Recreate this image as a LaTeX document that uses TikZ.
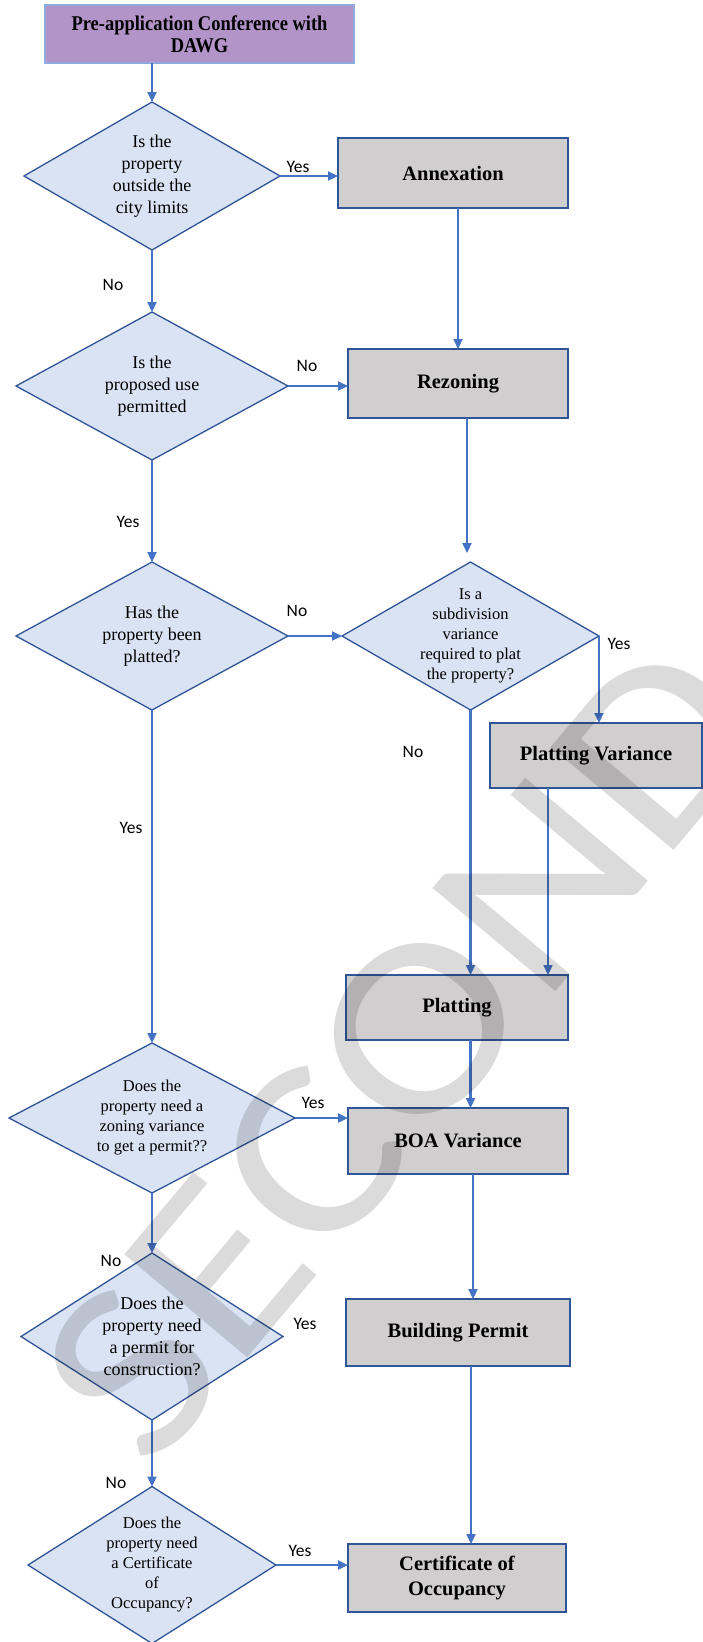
\documentclass[tikz,border=0pt]{standalone}
\usepackage{fontspec}
\setmainfont{Liberation Serif}
\newfontfamily\answerfont{Carlito}
\newfontfamily\stampfont{Carlito}
\newfontfamily\headfont{Liberation Serif}[FakeStretch=0.88]
\usetikzlibrary{arrows.meta,shapes.geometric,calc}

\definecolor{headfill}{RGB}{179,148,200}
\definecolor{headedge}{RGB}{143,170,220}
\definecolor{qfill}{RGB}{218,227,243}
\definecolor{qedge}{RGB}{47,85,151}
\definecolor{stepfill}{RGB}{208,206,206}
\definecolor{stepedge}{RGB}{47,85,151}
\definecolor{flow}{RGB}{68,114,196}

\tikzset{
  headbox/.style={draw=headedge, fill=headfill, line width=1.4pt, inner sep=0pt, outer sep=0pt,
    align=center, font=\headfont\bfseries\fontsize{21}{22}\selectfont},
  decision/.style={shape=diamond, draw=qedge, fill=qfill, line width=1.3pt, inner sep=0pt, outer sep=0pt},
  qtext/.style={align=center, inner sep=0pt, font=\fontsize{18}{22}\selectfont},
  qsmall/.style={align=center, inner sep=0pt, font=\fontsize{16.5}{20}\selectfont},
  stepbox/.style={draw=stepedge, fill=stepfill, line width=1.6pt, inner sep=0pt, outer sep=0pt,
    align=center, font=\bfseries\fontsize{20.5}{25.5}\selectfont},
  flowarrow/.style={draw=flow, line width=2.2pt, -{Triangle[length=10pt,width=9pt]}},
  answer/.style={inner sep=0pt, font=\answerfont\fontsize{17.5}{20}\selectfont},
}

\begin{document}
\begin{tikzpicture}[x=1pt, y=-1pt]
\useasboundingbox (0,0) rectangle (703,1642);

% start box
\node[headbox, minimum width=309pt, minimum height=58pt] (pre) at (199.5,34)
  {Pre-application Conference with\\DAWG};

% decisions on the left
\node[decision, minimum width=256pt, minimum height=148pt] (q1) at (152,176) {};
\node[qtext] (q1t) at (q1.center) {Is the\\property\\outside the\\city limits};

\node[decision, minimum width=272pt, minimum height=148pt] (q2) at (152,386) {};
\node[qtext] (q2t) at (q2.center) {Is the\\proposed use\\permitted};

\node[decision, minimum width=272pt, minimum height=148pt] (q3) at (152,636) {};
\node[qtext] (q3t) at (q3.center) {Has the\\property been\\platted?};

\node[decision, minimum width=257pt, minimum height=148pt] (q4) at (470.5,636) {};
\node[qsmall] (q4t) at (q4.center) {Is a\\subdivision\\variance\\required to plat\\the property?};

\node[decision, minimum width=286pt, minimum height=150pt] (q5) at (152,1118) {};
\node[qsmall] (q5t) at (q5.center) {Does the\\property need a\\zoning variance\\to get a permit??};

\node[decision, minimum width=262pt, minimum height=167pt] (q6) at (152,1336.5) {};
\node[qtext] (q6t) at (q6.center) {Does the\\property need\\a permit for\\construction?};

\node[decision, minimum width=248pt, minimum height=157pt] (q7) at (152,1565) {};
\node[qsmall] (q7t) at (q7.center) {Does the\\property need\\a Certificate\\of\\Occupancy?};

% process steps on the right
\node[stepbox, minimum width=230pt, minimum height=70pt] (annex) at (453,173) {Annexation};
\node[stepbox, minimum width=220pt, minimum height=69pt] (rez) at (458,383.5) {Rezoning};
\node[stepbox, minimum width=212pt, minimum height=65pt] (pvar) at (596,755.5) {Platting Variance};
\node[stepbox, minimum width=222pt, minimum height=65pt] (plat) at (457,1007.5) {Platting};
\node[stepbox, minimum width=220pt, minimum height=66pt] (boa) at (458,1141) {BOA Variance};
\node[stepbox, minimum width=224pt, minimum height=67pt] (bp) at (458,1332.5) {Building Permit};
\node[stepbox, minimum width=218pt, minimum height=68pt] (coo) at (457,1578) {Certificate of\\Occupancy};

% connectors
\coordinate (q4in) at (467,553);
\draw[flowarrow] (pre.south -| q1.north) -- (q1.north);
\draw[flowarrow] (q1.east) -- (q1.east -| annex.west);
\draw[flowarrow] (annex.south -| rez.north) -- (rez.north);
\draw[flowarrow] (q1.south) -- (q2.north);
\draw[flowarrow] (q2.east) -- (q2.east -| rez.west);
\draw[flowarrow] (rez.south -| q4in) -- (q4in);
\draw[flowarrow] (q2.south) -- (q3.north);
\draw[flowarrow] (q3.east) -- (q4.west);
\draw[flowarrow] (q4.east) -- (q4.east |- pvar.north);
\draw[flowarrow] (q4.south) -- (q4.south |- plat.north);
\draw[flowarrow] ([xshift=-48pt]pvar.south) -- ([xshift=-48pt]pvar.south |- plat.north);
\draw[flowarrow] (q3.south) -- (q5.north);
\draw[flowarrow] (plat.south -| q4.south) -- (boa.north -| q4.south);
\draw[flowarrow] (q5.east) -- (q5.east -| boa.west);
\draw[flowarrow] ([xshift=15pt]boa.south) -- ([xshift=15pt]boa.south |- bp.north);
\draw[flowarrow] (q5.south) -- (q6.north);
\draw[flowarrow] (q6.south) -- (q7.north);
\draw[flowarrow] ([xshift=13pt]bp.south) -- ([xshift=13pt]bp.south |- coo.north);
\draw[flowarrow] (q7.east) -- (q7.east -| coo.west);

% branch answers
\node[answer] (a1) at (298,167) {Yes};
\node[answer] (a2) at (113,285) {No};
\node[answer] (a3) at (307,366) {No};
\node[answer] (a4) at (128,522) {Yes};
\node[answer] (a5) at (297,611) {No};
\node[answer] (a6) at (619,644) {Yes};
\node[answer] (a7) at (413,752) {No};
\node[answer] (a8) at (131,828) {Yes};
\node[answer] (a9) at (313,1103) {Yes};
\node[answer] (a10) at (111,1261) {No};
\node[answer] (a11) at (305,1324) {Yes};
\node[answer] (a12) at (116,1483) {No};
\node[answer] (a13) at (300,1551) {Yes};

% stamp across the sheet
\begin{scope}
  \clip (0,0) rectangle (703,1642);
  \node[rotate=50, anchor=base west, inner sep=0pt, text=black, text opacity=0.14,
        font=\stampfont\fontsize{250}{250}\selectfont] (stamp) at (150,1475)
        {\scalebox{1.15}[1]{SECOND}};
\end{scope}
\end{tikzpicture}
\end{document}
